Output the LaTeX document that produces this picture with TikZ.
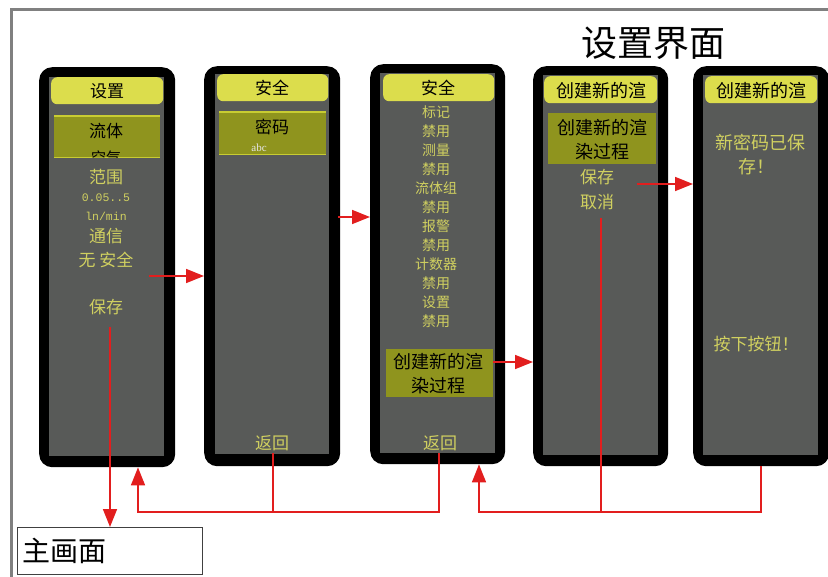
\documentclass[tikz,border=0pt]{standalone}
\usepackage{fontspec}
\newfontfamily\cjk{Noto Sans CJK SC}
\newfontfamily\monof{Liberation Mono}
\newfontfamily\serf{Liberation Serif}
\usetikzlibrary{arrows.meta}
\definecolor{scrgray}{RGB}{88,90,88}
\definecolor{hdryellow}{RGB}{220,221,76}
\definecolor{hlolive}{RGB}{143,148,30}
\definecolor{hledge}{RGB}{200,204,50}
\definecolor{txtyellow}{RGB}{208,208,96}
\definecolor{framegray}{RGB}{128,128,128}
\definecolor{arrred}{RGB}{226,30,30}
\tikzset{
  outerbox/.style={fill=black, rounded corners=13pt, inner sep=0pt, anchor=north west, minimum width=136pt, minimum height=400pt},
  innerbox/.style={fill=scrgray, inner sep=0pt, anchor=north west, minimum width=115pt, minimum height=380pt},
  hdrbox/.style={fill=hdryellow, rounded corners=6pt, inner sep=0pt, anchor=north west, minimum width=112pt, minimum height=27pt},
  hlbox/.style={fill=hlolive, inner sep=0pt, anchor=north west},
  hledgeline/.style={draw=hledge, line width=1.5pt},
  ytxt/.style={text=txtyellow, inner sep=0pt, font=\cjk\fontsize{17}{17}\selectfont},
  ysmall/.style={text=txtyellow, inner sep=0pt, font=\cjk\fontsize{14}{14}\selectfont},
  btxt/.style={text=black, inner sep=0pt, font=\cjk\fontsize{17}{17}\selectfont},
  monotxt/.style={text=txtyellow, inner sep=0pt, font=\monof\fontsize{11.5}{11.5}\selectfont},
  redline/.style={draw=arrred, line width=1.6pt},
  redarrow/.style={draw=arrred, line width=1.6pt, -{Triangle[length=18pt,width=14pt]}},
}
\begin{document}
\begin{tikzpicture}[x=1pt,y=-1pt]
\useasboundingbox (0,0) rectangle (828,577);
\fill[white] (0,0) rectangle (828,577);
% frame
\draw[framegray, line width=2.5pt] (11.5,577) -- (11.5,9.5) -- (828,9.5);
% title
\node[inner sep=0pt, font=\cjk\fontsize{36}{36}\selectfont] (title) at (653,43) {设置界面};

% ---------- panel 1 ----------
\node[outerbox] (p1) at (39,67) {};
\node[innerbox, minimum width=115pt, minimum height=379pt] (g1) at (49,77) {};
\node[hdrbox] (h1) at (51,77) {};
\node[btxt] (h1t) at (107,91) {设置};
\node[hlbox, minimum width=106pt, minimum height=41pt] (hl1) at (54,116) {};
\draw[hledgeline] (hl1.north west) -- (hl1.north east);
\draw[hledgeline] (hl1.south west) -- (hl1.south east);
\node[btxt] (t1a) at (106,131) {流体};
\begin{scope}
\clip (hl1.north west) rectangle (hl1.south east);
\node[btxt, font=\cjk\fontsize{15}{15}\selectfont] (t1b) at (106,158) {空气};
\end{scope}
\node[ytxt] (t1c) at (106,177) {范围};
\node[monotxt] (t1d) at (106,198) {0.05..5};
\node[monotxt] (t1e) at (106,216) {ln/min};
\node[ytxt] (t1f) at (106,236) {通信};
\node[ytxt] (t1g) at (106,260) {无\ 安全};
\node[ytxt] (t1h) at (106,307) {保存};

% ---------- panel 2 ----------
\node[outerbox] (p2) at (204,66) {};
\node[innerbox, minimum width=114pt, minimum height=380pt] (g2) at (215,74) {};
\node[hdrbox, minimum width=111pt] (h2) at (217,74) {};
\node[btxt] (h2t) at (272,88) {安全};
\node[hlbox, minimum width=107pt, minimum height=42pt] (hl2) at (219,112) {};
\draw[hledgeline] (hl2.north west) -- (hl2.north east);
\draw[hledgeline] (hl2.south west) -- (hl2.south east);
\node[btxt] (t2a) at (272,127) {密码};
\node[inner sep=0pt, text=white!90!black, font=\serf\fontsize{11}{11}\selectfont] (t2b) at (259,148) {abc};
\node[ytxt] (t2c) at (272,443) {返回};

% ---------- panel 3 ----------
\node[outerbox, minimum width=135pt] (p3) at (370,64) {};
\node[innerbox, minimum width=115pt, minimum height=380pt] (g3) at (380,73) {};
\node[hdrbox, minimum width=111pt] (h3) at (383,74) {};
\node[btxt] (h3t) at (438,88) {安全};
\node[ysmall] (t3a) at (436,112) {标记};
\node[ysmall] (t3b) at (436,131) {禁用};
\node[ysmall] (t3c) at (436,150) {测量};
\node[ysmall] (t3d) at (436,169) {禁用};
\node[ysmall] (t3e) at (436,188) {流体组};
\node[ysmall] (t3f) at (436,207) {禁用};
\node[ysmall] (t3g) at (436,226) {报警};
\node[ysmall] (t3h) at (436,245) {禁用};
\node[ysmall] (t3i) at (436,264) {计数器};
\node[ysmall] (t3j) at (436,283) {禁用};
\node[ysmall] (t3k) at (436,302) {设置};
\node[ysmall] (t3l) at (436,321) {禁用};
\node[hlbox, minimum width=107pt, minimum height=48pt] (hl3) at (386,349) {};
\node[btxt, font=\cjk\fontsize{18}{18}\selectfont] (t3m) at (438,362) {创建新的渲};
\node[btxt, font=\cjk\fontsize{18}{18}\selectfont] (t3n) at (438,386) {染过程};
\node[ytxt] (t3o) at (440,443) {返回};

% ---------- panel 4 ----------
\node[outerbox, minimum width=135pt] (p4) at (533,66) {};
\node[innerbox, minimum width=115pt, minimum height=380pt] (g4) at (543,75) {};
\node[hdrbox, minimum width=113pt] (h4) at (544,76) {};
\node[btxt, font=\cjk\fontsize{18}{18}\selectfont] (h4t) at (601,91) {创建新的渲};
\node[hlbox, minimum width=108pt, minimum height=51pt] (hl4) at (548,113) {};
\node[btxt, font=\cjk\fontsize{18}{18}\selectfont] (t4a) at (602,128) {创建新的渲};
\node[btxt, font=\cjk\fontsize{18}{18}\selectfont] (t4b) at (602,152) {染过程};
\node[ytxt] (t4c) at (597,177) {保存};
\node[ytxt] (t4d) at (597,202) {取消};

% ---------- panel 5 ----------
\node[outerbox, minimum width=136pt] (p5) at (693,66) {};
\node[innerbox, minimum width=115pt, minimum height=380pt] (g5) at (703,75) {};
\node[hdrbox, minimum width=112pt] (h5) at (705,76) {};
\node[btxt, font=\cjk\fontsize{18}{18}\selectfont] (h5t) at (761,91) {创建新的渲};
\node[ytxt, font=\cjk\fontsize{18}{18}\selectfont] (t5a) at (760,143) {新密码已保};
\node[ytxt, font=\cjk\fontsize{18}{18}\selectfont] (t5b) at (756,167) {存！};
\node[ytxt] (t5c) at (756,344) {按下按钮！};

% ---------- main screen box ----------
\node[draw=black!75, line width=1.2pt, fill=white, inner sep=0pt, anchor=north west, minimum width=185pt, minimum height=47pt] (main) at (17,527) {};
\node[inner sep=0pt, anchor=west, font=\cjk\fontsize{28}{28}\selectfont] (maint) at (22,551) {主画面};

% ---------- connectors ----------
\coordinate (a1) at (149,276);
\draw[redarrow] (a1) -- (a1 -| p2.west);
\coordinate (a2) at (338,217);
\draw[redarrow] (a2) -- (a2 -| p3.west);
\draw[redarrow] (hl3.east |- t3m) -- (t3m -| p4.west);
\coordinate (a4) at (637,184);
\draw[redarrow] (a4) -- (a4 -| p5.west);
\coordinate (s1) at (110,327);
\draw[redarrow] (s1) -- (s1 |- main.north);
% return lines
\coordinate (b2) at (273,453);
\coordinate (b3) at (439,453);
\coordinate (ret1) at (138,512);
\draw[redline] (b2) -- (b2 |- ret1);
\draw[redarrow] (b3) -- (b3 |- ret1) -- (ret1) -- (ret1 |- p1.south);
\coordinate (c4) at (601,218);
\coordinate (ret3) at (479,512);
\draw[redline] (c4) -- (c4 |- ret3);
\draw[redarrow] (p5.south) -- (p5.south |- ret3) -- (ret3) -- (ret3 |- p3.south);
\end{tikzpicture}
\end{document}
